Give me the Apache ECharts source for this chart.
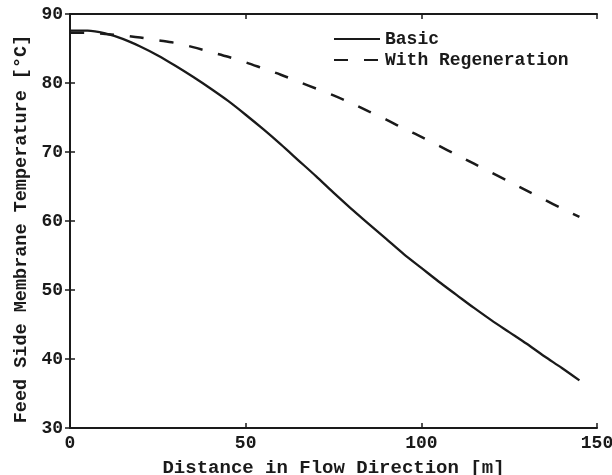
<!DOCTYPE html>
<html>
<head>
<meta charset="utf-8">
<script src="https://cdn.jsdelivr.net/npm/echarts@6/dist/echarts.min.js"></script>
<style>
body { margin: 0; background: #fff; }
#chart { width: 612px; height: 475px; }
</style>
</head>
<body>
<div id="chart"></div>
<script>
// distance along flow [m]
const distance = [0, 5, 10, 15, 20, 25, 30, 35, 40, 45, 50, 55, 60, 65, 70, 75,
  80, 85, 90, 95, 100, 105, 110, 115, 120, 125, 130, 135, 140, 145]
const basic = [87.6, 87.6, 87.2, 86.4, 85.3, 84.0, 82.5, 80.9, 79.2, 77.4, 75.4, 73.3,
  71.1, 68.8, 66.5, 64.1, 61.8, 59.6, 57.4, 55.2, 53.2, 51.2, 49.3, 47.4, 45.6, 43.9,
  42.2, 40.4, 38.7, 36.9]
const regen = [87.3, 87.3, 87.1, 86.9, 86.6, 86.2, 85.8, 85.2, 84.5, 83.8, 83.0, 82.1,
  81.2, 80.2, 79.2, 78.2, 77.1, 75.9, 74.7, 73.4, 72.2, 70.9, 69.6, 68.3, 67.0, 65.7,
  64.4, 63.1, 61.8, 60.6]

const font = 'Liberation Mono'
const ink = '#1a1a1a'

const chart = echarts.init(document.getElementById('chart'))
const pairs = ys => distance.map((x, i) => [x, ys[i]])

const frameAxis = {
  axisLine: { show: true, lineStyle: { color: ink, width: 2 } },
  axisTick: { show: true, inside: true, length: 5, lineStyle: { color: ink, width: 1.5 } },
  axisLabel: { show: false },
  splitLine: { show: false }
}

chart.setOption({
  animation: false,
  grid: { left: 70, right: 15, top: 14, bottom: 47, outerBoundsMode: 'none', containLabel: false },
  legend: {
    orient: 'vertical',
    left: 328,
    top: 25,
    itemWidth: 46,
    itemHeight: 12,
    itemGap: 3,
    itemStyle: { opacity: 0 },
    textStyle: { fontFamily: font, fontWeight: 'bold', fontSize: 18, color: ink },
    data: ['Basic', 'With Regeneration']
  },
  xAxis: [{
    type: 'value',
    min: 0,
    max: 150,
    interval: 50,
    name: 'Distance in Flow Direction [m]',
    nameLocation: 'middle',
    nameGap: 31,
    nameTextStyle: { fontFamily: font, fontWeight: 'bold', fontSize: 19, color: ink },
    axisLine: { lineStyle: { color: ink, width: 2 } },
    axisTick: { inside: true, length: 5, lineStyle: { color: ink, width: 1.5 } },
    axisLabel: { fontFamily: font, fontWeight: 'bold', fontSize: 18, color: ink, margin: 6 },
    splitLine: { show: false }
  }, {
    ...frameAxis, type: 'value', position: 'top', min: 0, max: 150, interval: 50
  }],
  yAxis: [{
    type: 'value',
    min: 30,
    max: 90,
    interval: 10,
    name: 'Feed Side Membrane Temperature [°C]',
    nameLocation: 'middle',
    nameGap: 38,
    nameTextStyle: { fontFamily: font, fontWeight: 'bold', fontSize: 18.5, color: ink, padding: [0, 16, 0, 0] },
    axisLine: { lineStyle: { color: ink, width: 2 } },
    axisTick: { inside: true, length: 5, lineStyle: { color: ink, width: 1.5 } },
    axisLabel: { fontFamily: font, fontWeight: 'bold', fontSize: 18, color: ink, margin: 7 },
    splitLine: { show: false }
  }, {
    ...frameAxis, type: 'value', position: 'right', min: 30, max: 90, interval: 10
  }],
  series: [{
    name: 'Basic',
    type: 'line',
    data: pairs(basic),
    smooth: 0.3,
    symbol: 'none',
    lineStyle: { color: ink, width: 2.3, type: 'solid' },
    itemStyle: { color: ink }
  }, {
    name: 'With Regeneration',
    type: 'line',
    data: pairs(regen),
    smooth: 0.3,
    symbol: 'none',
    lineStyle: { color: ink, width: 2.5, type: [14, 16] },
    itemStyle: { color: ink }
  }]
})
</script>
</body>
</html>
